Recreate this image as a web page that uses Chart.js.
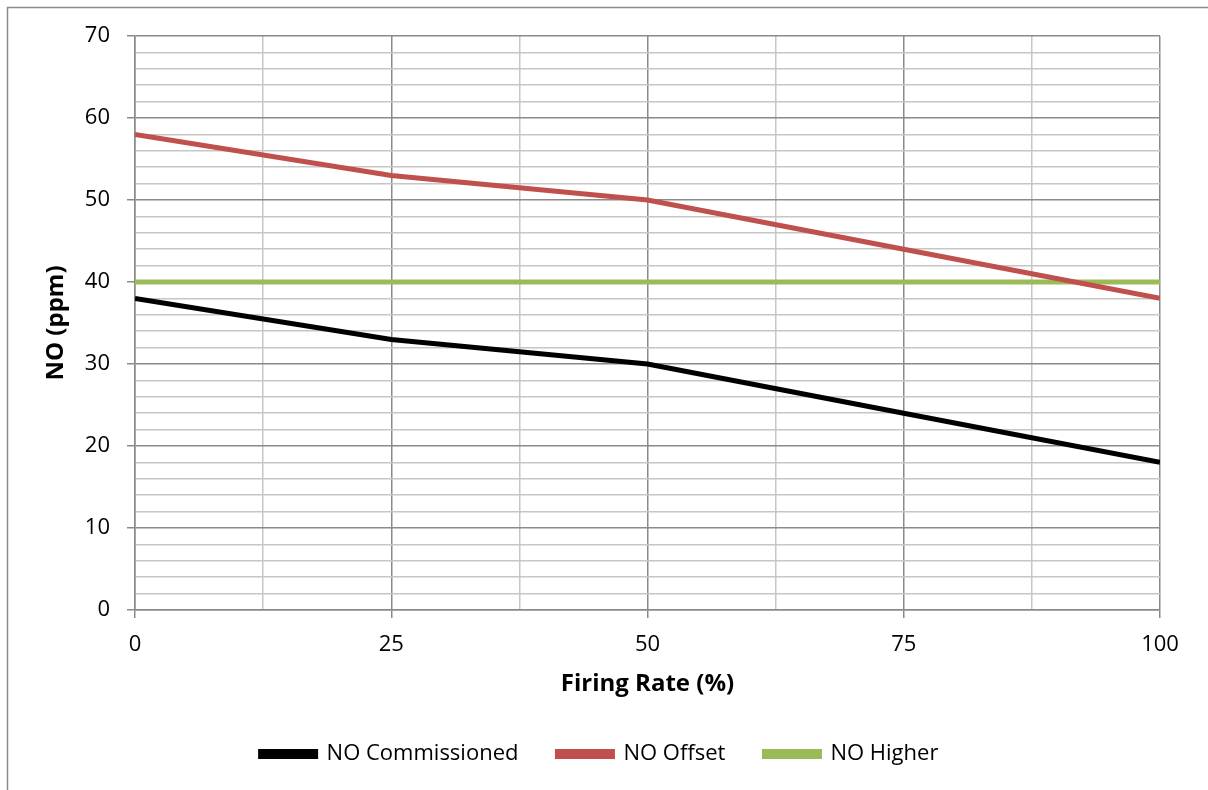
<!DOCTYPE html>
<html>
<head>
<meta charset="utf-8">
<script src="https://cdn.jsdelivr.net/npm/chart.js@4/dist/chart.umd.min.js"></script>
<style>
  html, body { margin: 0; padding: 0; background: #fff; overflow: hidden; }
  #wrap { width: 1208px; height: 790px; }
</style>
</head>
<body>
<div id="wrap"><canvas id="chart" width="1208" height="790"></canvas></div>
<script>
// data
const firingRate = [0, 25, 50, 75, 100];
const noCommissioned = [38, 33, 30, 24, 18];
const noOffset = [58, 53, 50, 44, 38];
const noHigher = [40, 40, 40, 40, 40];

const majorGrid = '#8a8a8a';
const minorGrid = '#c6c6c6';
const fontFamily = '"Open Sans", Lato, sans-serif';

const toPoints = (ys) => firingRate.map((x, i) => ({ x: x, y: ys[i] }));

// grey frame round the whole chart, like the spreadsheet chart border
const framePlugin = {
  id: 'frame',
  beforeDraw(chart) {
    const c = chart.ctx;
    c.save();
    c.strokeStyle = '#8c8c8c';
    c.lineWidth = 1.5;
    c.strokeRect(7.5, 7.5, 1400, 1000);
    c.restore();
  }
};

const ctx = document.getElementById('chart').getContext('2d');
const myChart = new Chart(ctx, {
  type: 'line',
  data: {
    datasets: [{
      label: 'NO Commissioned',
      data: toPoints(noCommissioned),
      borderColor: '#000000',
      backgroundColor: '#000000',
    }, {
      label: 'NO Offset',
      data: toPoints(noOffset),
      borderColor: '#c0504d',
      backgroundColor: '#c0504d',
    }, {
      label: 'NO Higher',
      data: toPoints(noHigher),
      borderColor: '#9bbb59',
      backgroundColor: '#9bbb59',
    }]
  },
  options: {
    responsive: false,
    animation: false,
    devicePixelRatio: 1,
    elements: {
      line: { borderWidth: 5, tension: 0 },
      point: { radius: 0, hoverRadius: 0 }
    },
    layout: {
      padding: { left: 39, top: 36, right: 48, bottom: 15 }
    },
    plugins: {
      tooltip: { enabled: false },
      legend: {
        position: 'bottom',
        labels: {
          font: { family: fontFamily, size: 22 },
          color: '#000',
          boxWidth: 55,
          boxHeight: 5,
          padding: 39
        }
      }
    },
    scales: {
      x: {
        type: 'linear',
        min: 0,
        max: 100,
        afterFit: (scale) => { scale.height = 94; },
        ticks: {
          stepSize: 12.5,
          autoSkip: false,
          maxRotation: 0,
          padding: 14,
          color: '#000',
          font: { family: fontFamily, size: 22 },
          callback: (v) => (v % 25 === 0 ? v : '')
        },
        grid: {
          color: (c) => (c.tick && c.tick.value % 25 === 0 ? majorGrid : minorGrid),
          tickColor: (c) => (c.tick && c.tick.value % 25 === 0 ? majorGrid : 'rgba(0,0,0,0)'),
          lineWidth: 1.5,
          tickLength: 8
        },
        border: { color: majorGrid, width: 1.5 },
        title: {
          display: true,
          text: 'Firing Rate (%)',
          color: '#000',
          font: { family: fontFamily, size: 24, weight: 'bold' },
          padding: { top: 4, bottom: 5 }
        }
      },
      y: {
        min: 0,
        max: 70,
        afterFit: (scale) => { scale.width = 96; },
        ticks: {
          stepSize: 2,
          autoSkip: false,
          padding: 17,
          color: '#000',
          font: { family: fontFamily, size: 22 },
          callback: (v) => (v % 10 === 0 ? v : '')
        },
        grid: {
          color: (c) => (c.tick && c.tick.value % 10 === 0 ? majorGrid : minorGrid),
          tickColor: (c) => (c.tick && c.tick.value % 10 === 0 ? majorGrid : 'rgba(0,0,0,0)'),
          lineWidth: 1.5,
          tickLength: 8
        },
        border: { color: majorGrid, width: 1.5 },
        title: {
          display: true,
          text: 'NO (ppm)',
          color: '#000',
          font: { family: fontFamily, size: 24, weight: 'bold' },
          padding: 3
        }
      }
    }
  },
  plugins: [framePlugin]
});
</script>
</body>
</html>
